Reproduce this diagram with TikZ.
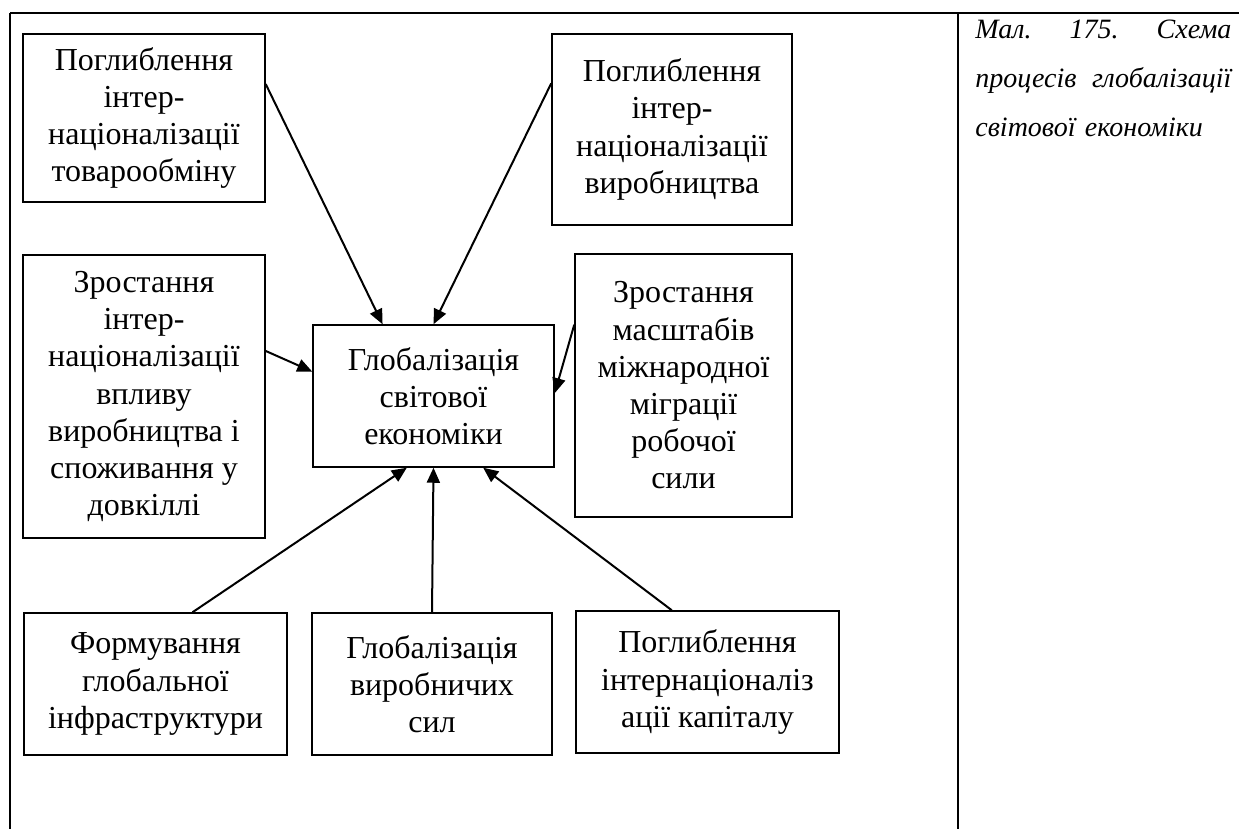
\documentclass[tikz,border=0pt]{standalone}
\usepackage{fontspec}
\setmainfont{Liberation Serif}
\usetikzlibrary{arrows.meta,calc}
\begin{document}
\begin{tikzpicture}[x=0.5pt,y=-0.5pt,
  box/.style={draw, rectangle, line width=0.75pt, align=center, inner sep=0pt,
    font=\fontsize{16}{18.6}\selectfont},
  arr/.style={-{Triangle[length=7.5pt,width=6.5pt]}, line width=1pt}]
\useasboundingbox (0,0) rectangle (1239,829);
% table lines
\draw[line width=1pt] (10,13) -- (1239,13);
\draw[line width=1pt] (10,13) -- (10,829);
\draw[line width=1pt] (958,13) -- (958,829);

\node[box, minimum width=121pt, minimum height=84pt] (tovar) at (144,118) {Поглиблення\\ інтер-\\ націоналізації\\ товарообміну};
\node[box, minimum width=120pt, minimum height=95.5pt] (vyrob) at (672,129.5) {Поглиблення\\ інтер-\\ націоналізації\\ виробництва};
\node[box, minimum width=121pt, minimum height=141.5pt] (dovkil) at (144,396.5) {Зростання\\ інтер-\\ націоналізації\\ впливу\\ виробництва і\\ споживання у\\ довкіллі};
\node[box, minimum width=120.5pt, minimum height=71pt] (glob) at (433.5,396) {Глобалізація\\ світової\\ економіки};
\node[box, minimum width=108.5pt, minimum height=131.5pt] (migr) at (683.5,385.5) {Зростання\\ масштабів\\ міжнародної\\ міграції\\ робочої\\ сили};
\node[box, minimum width=131.5pt, minimum height=71pt] (infra) at (155.5,684) {Формування\\ глобальної\\ інфраструктури};
\node[box, minimum width=120pt, minimum height=71pt] (syly) at (432,684) {Глобалізація\\ виробничих\\ сил};
\node[box, minimum width=131.5pt, minimum height=71pt] (kapital) at (707.5,682) {Поглиблення\\ інтернаціоналіз\\ ації капіталу};

\draw[arr] ($(tovar.north east)!0.3!(tovar.south east)$) -- ($(glob.north west)!0.29!(glob.north east)$);
\draw[arr] ($(vyrob.north west)!0.26!(vyrob.south west)$) -- (glob.north);
\draw[arr] ($(dovkil.north east)!0.34!(dovkil.south east)$) -- ($(glob.north west)!0.33!(glob.south west)$);
\draw[arr] ($(migr.north west)!0.27!(migr.south west)$) -- ($(glob.north east)!0.48!(glob.south east)$);
\draw[arr] ($(infra.north west)!0.64!(infra.north east)$) -- ($(glob.south west)!0.39!(glob.south east)$);
\draw[arr] (syly.north) -- (glob.south);
\draw[arr] ($(kapital.north west)!0.365!(kapital.north east)$) -- ($(glob.south west)!0.705!(glob.south east)$);

\node[anchor=north west, text width=128pt, align=left, inner sep=0pt,
  font=\fontsize{14}{24.5}\selectfont\itshape] (caption) at (975,20)
  {Мал.\hfill 175.\hfill Схема\\ процесів\hfill глобалізації\\ світової економіки};
\end{tikzpicture}
\end{document}
